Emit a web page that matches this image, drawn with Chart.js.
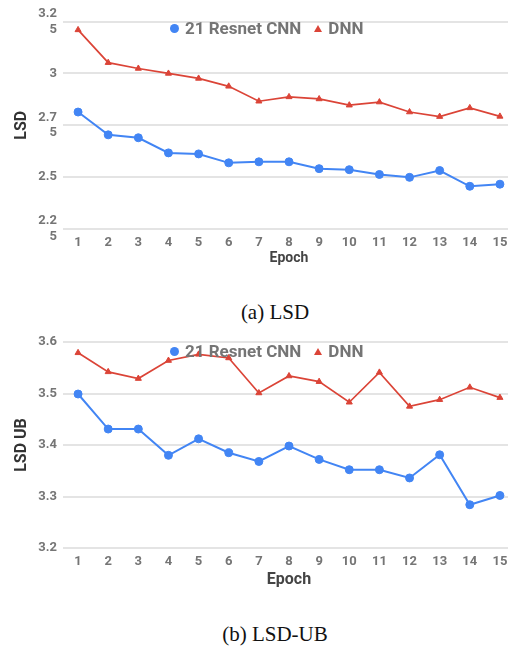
<!DOCTYPE html>
<html>
<head>
<meta charset="utf-8">
<title>LSD / LSD-UB</title>
<script src="https://cdn.jsdelivr.net/npm/chart.js@4.4.1/dist/chart.umd.min.js"></script>
<style>
  html, body { margin: 0; padding: 0; overflow: hidden; background: #fff; }
  body { width: 508px; height: 650px; position: relative; font-family: Roboto, sans-serif; }
  .panel { position: absolute; left: 0; }
  .legend { position: absolute; left: 170px; height: 20px; display: flex; align-items: center;
            font: bold 17px Roboto, sans-serif; color: #757575; white-space: nowrap; }
  .dot { width: 9px; height: 9px; border-radius: 50%; background: #4285F4; margin-right: 6px; }
  .tri { width: 0; height: 0; border-left: 4px solid transparent; border-right: 4px solid transparent;
         border-bottom: 7px solid #DB4437; margin: 0 6px 0 13px; }
  .caption { position: absolute; left: 175px; width: 200px; text-align: center; line-height: 24px;
             font: 21px "Liberation Serif", "Times New Roman", serif; color: #111; }
</style>
</head>
<body>
<canvas id="lsdChart" class="panel" style="top:0" width="520" height="270"></canvas>
<div class="legend" style="top:18px"><span class="dot"></span>21 Resnet CNN<span class="tri"></span>DNN</div>
<div class="caption" style="top:300px">(a) LSD</div>

<canvas id="ubChart" class="panel" style="top:325px" width="520" height="266"></canvas>
<div class="legend" style="top:341px"><span class="dot"></span>21 Resnet CNN<span class="tri"></span>DNN</div>
<div class="caption" style="top:622px">(b) LSD-UB</div>

<script>
// ---- data ----
const epochs = ['1', '2', '3', '4', '5', '6', '7', '8', '9', '10', '11', '12', '13', '14', '15'];

const lsdCnn = [2.814, 2.704, 2.690, 2.617, 2.612, 2.569, 2.574, 2.574, 2.541, 2.536, 2.513, 2.499, 2.532, 2.456, 2.466];
const lsdDnn = [3.210, 3.052, 3.024, 3.000, 2.976, 2.938, 2.866, 2.887, 2.877, 2.847, 2.862, 2.814, 2.792, 2.834, 2.793];
const lsdTickLabels = [['2.2', '5'], '2.5', ['2.7', '5'], '3', ['3.2', '5']];

const ubCnn = [3.499, 3.431, 3.431, 3.380, 3.412, 3.385, 3.368, 3.398, 3.372, 3.352, 3.352, 3.336, 3.381, 3.284, 3.302];
const ubDnn = [3.579, 3.542, 3.529, 3.564, 3.576, 3.569, 3.501, 3.534, 3.523, 3.483, 3.541, 3.475, 3.488, 3.512, 3.492];
const ubTickLabels = ['3.2', '3.3', '3.4', '3.5', '3.6'];

const BLUE = '#4285F4';
const RED = '#DB4437';
const TICK_GRAY = '#757575';

Chart.defaults.font.family = 'Roboto, sans-serif';

function seriesSets(cnn, dnn) {
  return [
    {
      label: '21 Resnet CNN', data: cnn,
      borderColor: BLUE, backgroundColor: BLUE, borderWidth: 2,
      pointStyle: 'circle', pointRadius: 4, pointBorderWidth: 1
    },
    {
      label: 'DNN', data: dnn,
      borderColor: RED, backgroundColor: RED, borderWidth: 1.7,
      pointStyle: 'triangle', pointRadius: 3.5, pointBorderWidth: 1
    }
  ];
}

// xAxisHeight: tick labels + "Epoch" title (Chart.js would double the tick padding otherwise)
function makeChart(id, cnn, dnn, yOpts, tickLabels, yTitle, xTitleSize, xAxisHeight, padding) {
  return new Chart(document.getElementById(id), {
    type: 'line',
    data: { labels: epochs, datasets: seriesSets(cnn, dnn) },
    options: {
      responsive: false,
      animation: false,
      devicePixelRatio: 1,
      layout: { padding: padding },
      plugins: { legend: { display: false }, tooltip: { enabled: false } },
      scales: {
        x: {
          offset: true,
          afterFit: s => { s.height = xAxisHeight; },
          grid: { display: false, drawTicks: false },
          border: { display: false },
          ticks: { color: TICK_GRAY, padding: 6, font: { size: 13, weight: 'bold' } },
          title: { display: true, text: 'Epoch', color: '#444', padding: 0,
                   font: { size: xTitleSize, weight: 'bold' } }
        },
        y: {
          min: yOpts.min, max: yOpts.max,
          afterFit: s => { s.width = 63; },
          grid: { color: '#e4e4e4', lineWidth: 2, drawTicks: false },
          border: { display: false },
          ticks: {
            stepSize: yOpts.step, color: TICK_GRAY, padding: 6,
            font: { size: 13, weight: 'bold' },
            callback: (v, i) => tickLabels[i]
          },
          title: { display: true, text: yTitle, color: '#333', padding: { top: 12, bottom: 0 },
                   font: { size: 16, weight: 'bold' } }
        }
      }
    }
  });
}

makeChart('lsdChart', lsdCnn, lsdDnn, { min: 2.25, max: 3.25, step: 0.25 }, lsdTickLabels,
          'LSD', 14, 37.5, { top: 19, right: 3, bottom: 3.5, left: 0 });
makeChart('ubChart', ubCnn, ubDnn, { min: 3.2, max: 3.6, step: 0.1 }, ubTickLabels,
          'LSD UB', 16, 41.5, { top: 17, right: 3, bottom: 1.5, left: 0 });
</script>
</body>
</html>
